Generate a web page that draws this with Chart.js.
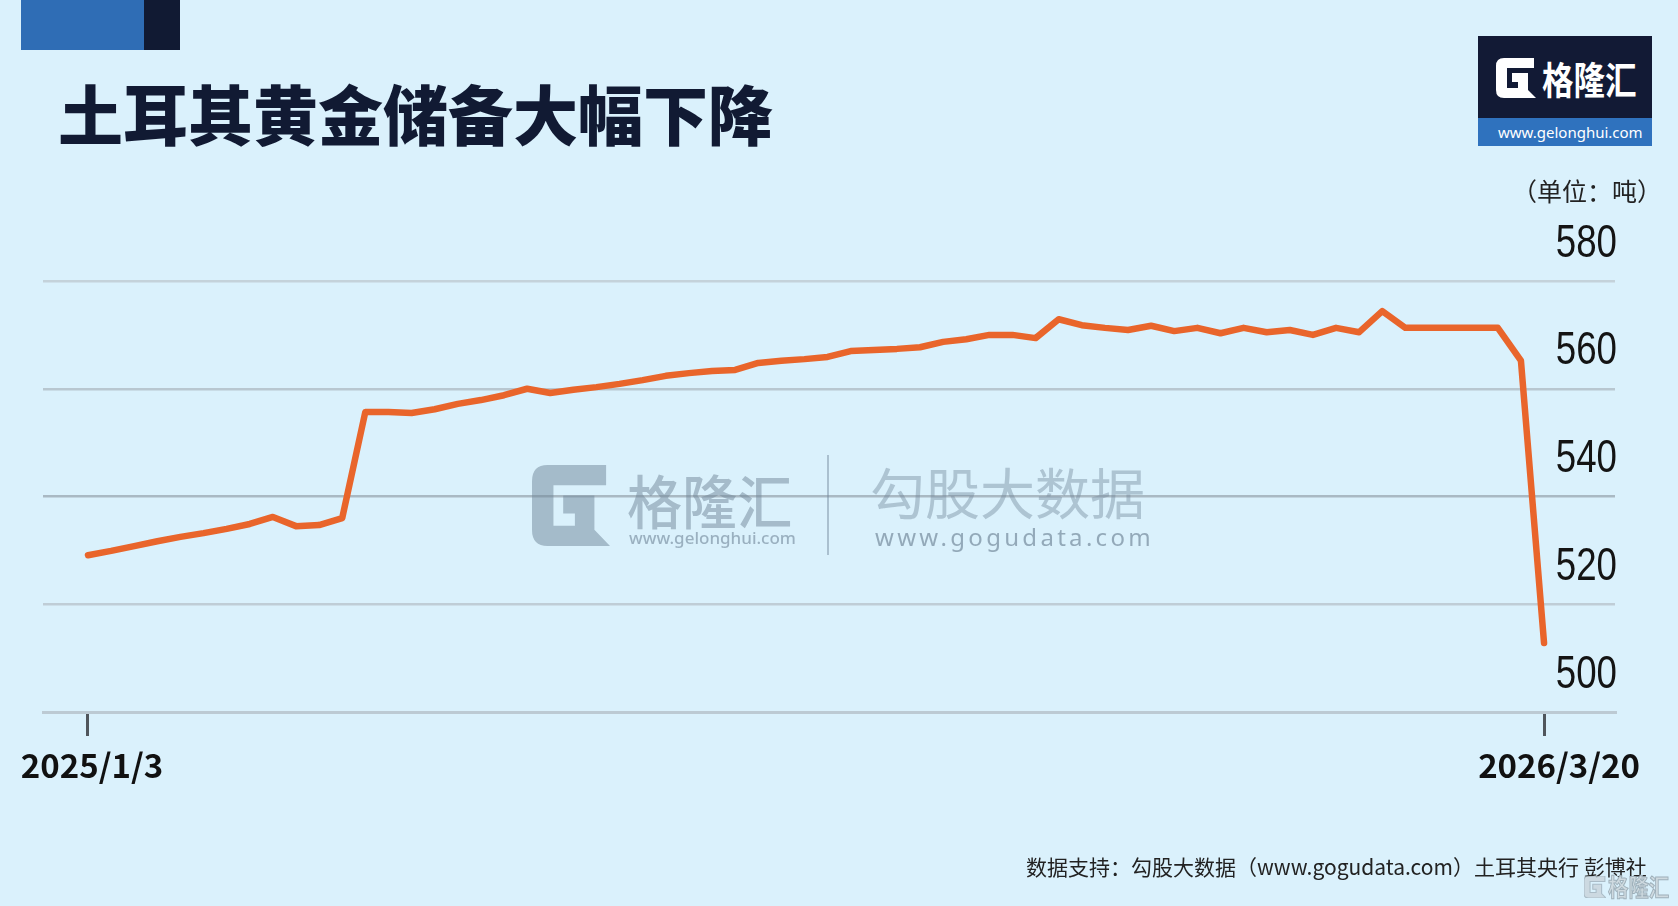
<!DOCTYPE html>
<html><head><meta charset="utf-8">
<script src="https://cdn.jsdelivr.net/npm/chart.js@4.4.1/dist/chart.umd.min.js"></script>
<style>
html,body{margin:0;padding:0;background:#daf1fc;width:1678px;height:906px;overflow:hidden}
#wrap{position:relative;width:1678px;height:906px}
canvas{position:absolute;left:0;top:0}
.t{position:absolute;white-space:nowrap;font-family:"Noto Sans CJK SC","Noto Sans",sans-serif;pointer-events:none}
.abs{position:absolute;pointer-events:none}
</style></head><body>
<div id="wrap">
<canvas id="c" width="1678" height="906"></canvas>

<div class="abs" style="left:21px;top:0;width:123px;height:50px;background:#2f6db5"></div>
<div class="abs" style="left:144px;top:0;width:36px;height:50px;background:#111a33"></div>
<div class="t" style="left:58px;top:80px;font-size:65px;line-height:65px;font-weight:900;color:#111a33">土耳其黄金储备大幅下降</div>

<!-- top-right logo -->
<div class="abs" style="left:1478px;top:36px;width:174px;height:82px;background:#121a35"></div>
<div class="abs" style="left:1478px;top:118px;width:174px;height:28px;background:#2f72be"></div>
<svg class="abs" style="left:1495px;top:58px" width="42" height="40" viewBox="0 0 40 40"><path fill="#ffffff" d="M8,0 H38 V10 H11 V30 H22 V24 H16 V15 H32 V32 L40,40 H8 Q0,40 0,32 V8 Q0,0 8,0 Z"/></svg>
<div class="t" style="left:1542px;top:58px;font-size:38px;line-height:40px;font-weight:700;color:#fff;transform:scaleX(0.83);transform-origin:left top">格隆汇</div>
<div class="t" style="left:1498px;top:123px;font-size:15px;line-height:18px;color:#fff;font-family:'Noto Sans',sans-serif">www.gelonghui.com</div>

<div class="t" style="left:1512px;top:178px;font-size:25px;line-height:25px;color:#222">（单位：吨）</div>

<!-- center watermark -->
<svg class="abs" style="left:532px;top:465px;opacity:0.5" width="78" height="81" viewBox="0 0 40 40" preserveAspectRatio="none"><path fill="#6f8698" d="M8,0 H38 V10 H11 V30 H22 V24 H16 V15 H32 V32 L40,40 H8 Q0,40 0,32 V8 Q0,0 8,0 Z"/></svg>
<div class="t" style="left:627px;top:470px;font-size:58px;line-height:58px;font-weight:500;color:rgba(111,134,152,0.5);transform:scaleX(0.95);transform-origin:left top">格隆汇</div>
<div class="t" style="left:629px;top:529px;font-size:17px;line-height:18px;font-weight:500;color:rgba(111,134,152,0.6);font-family:'Noto Sans',sans-serif">www.gelonghui.com</div>
<div class="abs" style="left:827px;top:455px;width:2px;height:100px;background:rgba(111,134,152,0.45)"></div>
<div class="t" style="left:870px;top:463px;font-size:55px;line-height:55px;color:rgba(111,134,152,0.42)">勾股大数据</div>
<div class="t" style="left:875px;top:525px;font-size:24px;line-height:24px;letter-spacing:3.3px;color:rgba(100,122,140,0.6);font-family:'Noto Sans',sans-serif">www.gogudata.com</div>

<!-- footer -->
<div class="t" style="left:1026px;top:856px;font-size:21px;line-height:21px;color:#222">数据支持：勾股大数据（www.gogudata.com）土耳其央行 彭博社</div>
<svg class="abs" style="left:1584px;top:876px;opacity:0.8" width="22" height="22" viewBox="0 0 40 40"><path fill="#c9d4da" stroke="#9fb0ba" stroke-width="2" d="M8,0 H38 V10 H11 V30 H22 V24 H16 V15 H32 V32 L40,40 H8 Q0,40 0,32 V8 Q0,0 8,0 Z"/></svg>
<div class="t" style="left:1608px;top:874px;font-size:24px;line-height:24px;font-weight:700;color:rgba(205,215,221,0.9);-webkit-text-stroke:1px #9fb0ba;transform:scaleX(0.85);transform-origin:left top">格隆汇</div>
</div>

<script>
// ---- data (weekly Turkish central bank gold reserves, tonnes) ----
const xTickLabels = ['2025/1/3', '2026/3/20'];
const yTickValues = [500, 520, 540, 560, 580];
const reserves = [
  529.1, 529.9, 530.8, 531.7, 532.5, 533.2, 534.0, 534.9, 536.2, 534.5,
  534.7, 536.0, 555.7, 555.7, 555.5, 556.2, 557.2, 557.9, 558.8, 560.0,
  559.2, 559.8, 560.3, 560.9, 561.6, 562.4, 562.9, 563.3, 563.5, 564.8,
  565.2, 565.5, 565.9, 567.0, 567.2, 567.4, 567.7, 568.7, 569.2, 570.0,
  570.0, 569.4, 572.9, 571.8, 571.3, 570.9, 571.7, 570.7, 571.3, 570.3,
  571.3, 570.5, 570.9, 570.0, 571.3, 570.5, 574.4, 571.3, 571.3, 571.3,
  571.3, 571.3, 565.2, 512.8
];

const points = reserves.map((v, i) => ({ x: i, y: v }));
const lastIdx = reserves.length - 1;

const gridColors = { 500: '#bccad3', 520: '#bfcdd6', 540: '#a9b9c3', 560: '#b8c7d0', 580: '#c4d2da' };
const xLabelShift = [4, 15];

// axis labels drawn from the scales' own ticks
const axisLabels = {
  id: 'axisLabels',
  afterDraw(chart) {
    const ctx = chart.ctx;
    const ys = chart.scales.y;
    ctx.save();
    ctx.fillStyle = '#141414';
    ctx.font = '47px "Liberation Sans", Arial, sans-serif';
    ctx.textAlign = 'right';
    ctx.textBaseline = 'alphabetic';
    ys.ticks.forEach(t => {
      const y = ys.getPixelForValue(t.value) - 24.5;
      ctx.save();
      ctx.translate(chart.chartArea.right + 2, y);
      ctx.scale(0.78, 1);
      ctx.fillText(String(t.value), 0, 0);
      ctx.restore();
    });
    const xs = chart.scales.x;
    ctx.fillStyle = '#111111';
    ctx.font = 'bold 33px "Noto Sans CJK SC", "Noto Sans", sans-serif';
    ctx.textAlign = 'center';
    ctx.textBaseline = 'middle';
    xs.ticks.forEach((t, i) => {
      const x = xs.getPixelForValue(t.value) + xLabelShift[i];
      ctx.fillText(xTickLabels[i], x, chart.chartArea.bottom + 53);
    });
    ctx.restore();
  }
};

new Chart(document.getElementById('c'), {
  type: 'line',
  data: {
    datasets: [{
      data: points,
      borderColor: '#e9652b',
      borderWidth: 6.5,
      pointRadius: 0,
      tension: 0,
      borderJoinStyle: 'round',
      borderCapStyle: 'round',
      fill: false
    }]
  },
  plugins: [axisLabels],
  options: {
    responsive: false,
    animation: false,
    devicePixelRatio: 1,
    events: [],
    layout: { padding: { left: 43, right: 63, top: 281, bottom: 170 } },
    plugins: { legend: { display: false }, tooltip: { enabled: false }, title: { display: false } },
    scales: {
      x: {
        type: 'linear',
        min: -1.947,
        max: lastIdx + 3.07,
        afterBuildTicks: (axis) => { axis.ticks = [{ value: 0 }, { value: lastIdx }]; },
        grid: { display: true, drawOnChartArea: false, drawTicks: true, tickLength: 24, color: '#50565c', lineWidth: 3 },
        border: { display: true, color: '#bccad3', width: 3 },
        ticks: { display: false }
      },
      y: {
        position: 'right',
        min: 500,
        max: 580,
        afterBuildTicks: (axis) => { axis.ticks = yTickValues.map(v => ({ value: v })); },
        grid: { drawTicks: false, color: (ctx) => gridColors[ctx.tick.value] || '#bfcdd6', lineWidth: 2.5 },
        border: { display: false },
        ticks: { display: false, mirror: true, padding: 0 }
      }
    }
  }
});
</script>
</body></html>
